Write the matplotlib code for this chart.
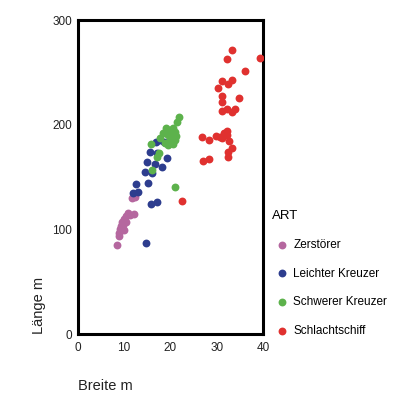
import matplotlib
matplotlib.use("Agg")
import matplotlib.pyplot as plt

plt.rcParams["font.family"] = ["Liberation Sans", "DejaVu Sans"]

# Breite (m) / Länge (m) je Schiffsart
zer_breite = [8.45, 8.95, 8.95, 9.16, 9.38, 9.60, 10.03, 10.46, 11.32, 12.18,
              9.81, 10.46, 10.03, 11.75, 12.40, 10.89]
zer_laenge = [85.2, 93.8, 96.7, 100.5, 103.3, 107.2, 110.0, 112.9, 113.9, 114.8,
              104.3, 107.2, 99.5, 130.1, 131.4, 115.8]

lk_breite = [17.79, 16.93, 18.65, 15.63, 17.08, 19.23, 14.92, 16.71, 18.16, 14.56,
             16.0, 15.27, 12.61, 12.03, 13.11, 17.08, 15.85, 14.77]
lk_laenge = [185.6, 183.4, 183.7, 174.4, 172.9, 168.1, 164.9, 162.4, 159.5, 155.3,
             154.4, 144.2, 143.2, 134.6, 136.2, 126.6, 124.1, 86.8]

sk_breite = [21.95, 21.52, 20.66, 19.08, 19.95, 21.02, 19.51, 20.38, 21.24, 18.44,
             19.95, 21.02, 18.87, 20.66, 15.78, 17.79, 19.51, 17.64, 17.08, 16.0, 21.02]
sk_laenge = [207.4, 203.2, 197.4, 196.8, 195.2, 193.3, 190.4, 188.5, 189.5, 192.3,
             185.6, 185.6, 182.8, 181.8, 181.8, 187.6, 180.9, 173.5, 169.7, 156.9, 141.0]

ss_breite = [33.25, 32.17, 39.35, 36.07, 31.22, 33.25, 32.52, 30.36, 31.22, 31.22,
             34.82, 31.09, 32.30, 33.25, 33.96, 26.78, 28.36, 29.87, 31.22, 32.17,
             32.30, 32.73, 33.25, 32.52, 32.52, 27.13, 28.36, 22.47, 31.59, 30.73]
ss_laenge = [271.8, 262.9, 263.8, 251.7, 242.4, 243.1, 239.0, 235.7, 228.0, 221.7,
             225.5, 213.7, 215.0, 212.7, 215.3, 188.8, 185.6, 189.8, 187.3, 194.5,
             190.4, 184.7, 177.7, 173.9, 169.7, 165.8, 167.5, 127.6, 192.3, 188.5]

arten = ["Zerstörer", "Leichter Kreuzer", "Schwerer Kreuzer", "Schlachtschiff"]
farben = ["#b5679f", "#2d3d8e", "#5db24c", "#e0312f"]
x_ticks = [0, 10, 20, 30, 40]
y_ticks = [0, 100, 200, 300]

fig = plt.figure(figsize=(4, 4.07), dpi=100)
ax = fig.add_axes([0.194, 0.179, 0.4635, 0.771])

daten = [(zer_breite, zer_laenge), (lk_breite, lk_laenge),
         (sk_breite, sk_laenge), (ss_breite, ss_laenge)]
for (bx, ly), art, farbe in zip(daten, arten, farben):
    ax.scatter(bx, ly, s=32, color=farbe, linewidths=0, label=art, zorder=3)

ax.set_xlim(0, 40)
ax.set_ylim(0, 300)
ax.set_xticks(x_ticks)
ax.set_yticks(y_ticks)
ax.tick_params(length=0, labelsize=8.5, labelcolor="#222222")
ax.tick_params(axis="x", pad=6)
ax.tick_params(axis="y", pad=4)
for sp in ax.spines.values():
    sp.set_linewidth(2.2)
    sp.set_color("black")

ax.set_xlabel("Breite m", loc="left", fontsize=10.5, color="#222222")
ax.xaxis.set_label_coords(0, -0.1415)
ax.set_ylabel("Länge m", loc="bottom", fontsize=10.5, color="#222222")
ax.yaxis.set_label_coords(-0.172, 0)

leg = ax.legend(title="ART", loc="upper left", bbox_to_anchor=(0.68, 0.484),
                bbox_transform=fig.transFigure, frameon=False, fontsize=8.5,
                title_fontsize=9.5, alignment="left", borderpad=0,
                borderaxespad=0, handlelength=1.7, handletextpad=0.1,
                labelspacing=1.42, markerscale=1.0)

fig.savefig("out.png", dpi=100)
